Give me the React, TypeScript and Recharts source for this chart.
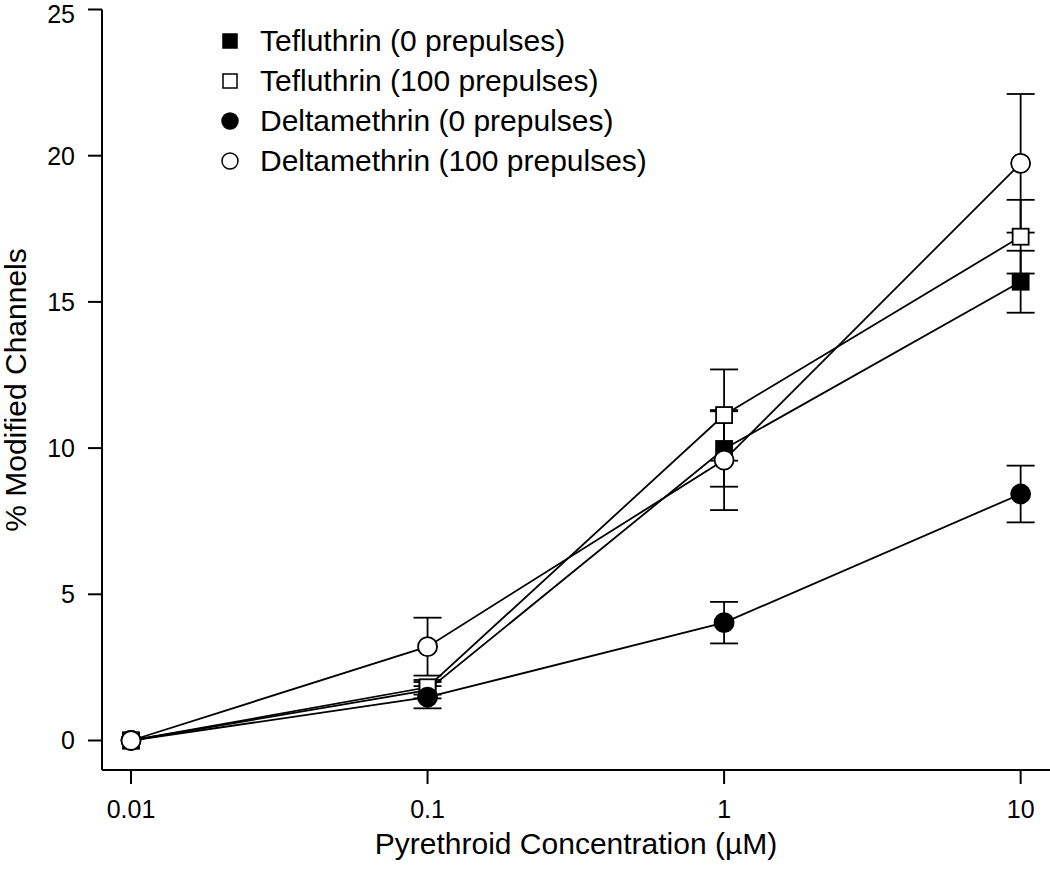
import React from 'react';
import { ComposedChart, Line, XAxis, YAxis, ErrorBar, Label } from 'recharts';

const concentrations = [0.01, 0.1, 1, 10];
const tefluthrin0 = [0, 1.72, 9.97, 15.69];
const tefluthrin0Err = [0, 0.28, 1.29, 1.06];
const tefluthrin100 = [0, 1.82, 11.13, 17.23];
const tefluthrin100Err = [0, 0.25, 1.56, 1.26];
const deltamethrin0 = [0, 1.48, 4.03, 8.43];
const deltamethrin0Err = [0, 0.38, 0.71, 0.97];
const deltamethrin100 = [0, 3.21, 9.59, 19.74];
const deltamethrin100Err = [0, 0.99, 1.71, 2.37];
const xTicks = [0.01, 0.1, 1, 10];
const xTickLabels = ['0.01', '0.1', '1', '10'];
const yTicks = [0, 5, 10, 15, 20, 25];
const seriesNames = [
  'Tefluthrin (0 prepulses)',
  'Tefluthrin (100 prepulses)',
  'Deltamethrin (0 prepulses)',
  'Deltamethrin (100 prepulses)',
];

const data = concentrations.map((c, i) => ({
  x: c,
  t0: tefluthrin0[i],
  t0e: tefluthrin0Err[i],
  t100: tefluthrin100[i],
  t100e: tefluthrin100Err[i],
  d0: deltamethrin0[i],
  d0e: deltamethrin0Err[i],
  d100: deltamethrin100[i],
  d100e: deltamethrin100Err[i],
}));

const FONT = '"Liberation Sans", Arial, Helvetica, sans-serif';
const FS = 25;
const FS_LAB = 30;

const makeDot = (kind: 'fs' | 'os' | 'fc' | 'oc') => (props: any) => {
  const { cx, cy, index } = props;
  if (cx == null || cy == null) return <g key={index} />;
  if (kind === 'fs' || kind === 'os') {
    return (
      <rect
        key={index}
        x={cx - 8}
        y={cy - 8}
        width={16}
        height={16}
        fill={kind === 'fs' ? '#000' : '#fff'}
        stroke="#000"
        strokeWidth={1.8}
      />
    );
  }
  return (
    <circle
      key={index}
      cx={cx}
      cy={cy}
      r={9.5}
      fill={kind === 'fc' ? '#000' : '#fff'}
      stroke="#000"
      strokeWidth={1.8}
    />
  );
};

const LegendMarker = ({ kind }: { kind: 'fs' | 'os' | 'fc' | 'oc' }) => (
  <svg width={20} height={20} style={{ display: 'block' }}>
    {kind === 'fs' || kind === 'os' ? (
      <rect x={3} y={3} width={14} height={14} fill={kind === 'fs' ? '#000' : '#fff'} stroke="#000" strokeWidth={1.5} />
    ) : (
      <circle cx={10} cy={10} r={8} fill={kind === 'fc' ? '#000' : '#fff'} stroke="#000" strokeWidth={1.5} />
    )}
  </svg>
);

const legendKinds: ('fs' | 'os' | 'fc' | 'oc')[] = ['fs', 'os', 'fc', 'oc'];

export default function App() {
  return (
    <div style={{ position: 'absolute', left: 0, top: 0, width: 1050, height: 872, background: '#fff', fontFamily: FONT }}>
      <ComposedChart
        width={1050}
        height={872}
        data={data}
        margin={{ top: 9.5, right: 0, bottom: 0, left: 0 }}
      >
        <XAxis
          dataKey="x"
          type="number"
          scale="log"
          domain={[0.007984, 12.56]}
          allowDataOverflow
          ticks={xTicks}
          tickFormatter={(v: number) => xTickLabels[xTicks.indexOf(v)] ?? String(v)}
          height={102}
          tickSize={14}
          tickMargin={16}
          axisLine={{ stroke: '#000', strokeWidth: 2 }}
          tickLine={{ stroke: '#000', strokeWidth: 2 }}
          tick={{ fill: '#000', fontSize: FS, fontFamily: FONT }}
        >
          <Label
            content={() => (
              <text x={576} y={854} textAnchor="middle" fill="#000" fontSize={FS_LAB} fontFamily={FONT}>
                Pyrethroid Concentration (µM)
              </text>
            )}
          />
        </XAxis>
        <YAxis
          type="number"
          domain={[-1.009, 25]}
          allowDataOverflow
          ticks={yTicks}
          width={102}
          tickSize={14}
          tickMargin={13}
          axisLine={{ stroke: '#000', strokeWidth: 2 }}
          tickLine={{ stroke: '#000', strokeWidth: 2 }}
          tick={{ fill: '#000', fontSize: FS, fontFamily: FONT }}
        >
          <Label
            content={() => (
              <text
                x={26}
                y={390}
                transform="rotate(-90 26 390)"
                textAnchor="middle"
                fill="#000"
                fontSize={FS_LAB}
                fontFamily={FONT}
              >
                % Modified Channels
              </text>
            )}
          />
        </YAxis>
        <Line
          dataKey="t0"
          type="linear"
          stroke="#000"
          strokeWidth={1.8}
          dot={makeDot('fs')}
          activeDot={false}
          isAnimationActive={false}
        >
          <ErrorBar dataKey="t0e" direction="y" width={14} stroke="#000" strokeWidth={1.8} />
        </Line>
        <Line
          dataKey="t100"
          type="linear"
          stroke="#000"
          strokeWidth={1.8}
          dot={makeDot('os')}
          activeDot={false}
          isAnimationActive={false}
        >
          <ErrorBar dataKey="t100e" direction="y" width={14} stroke="#000" strokeWidth={1.8} />
        </Line>
        <Line
          dataKey="d0"
          type="linear"
          stroke="#000"
          strokeWidth={1.8}
          dot={makeDot('fc')}
          activeDot={false}
          isAnimationActive={false}
        >
          <ErrorBar dataKey="d0e" direction="y" width={14} stroke="#000" strokeWidth={1.8} />
        </Line>
        <Line
          dataKey="d100"
          type="linear"
          stroke="#000"
          strokeWidth={1.8}
          dot={makeDot('oc')}
          activeDot={false}
          isAnimationActive={false}
        >
          <ErrorBar dataKey="d100e" direction="y" width={14} stroke="#000" strokeWidth={1.8} />
        </Line>
      </ComposedChart>
      <div style={{ position: 'absolute', left: 220, top: 21, fontSize: FS_LAB, color: '#000', lineHeight: '40px' }}>
        {seriesNames.map((name, i) => (
          <div key={name} style={{ display: 'flex', alignItems: 'center', height: 40 }}>
            <LegendMarker kind={legendKinds[i]} />
            <span style={{ marginLeft: 20 }}>{name}</span>
          </div>
        ))}
      </div>
    </div>
  );
}
